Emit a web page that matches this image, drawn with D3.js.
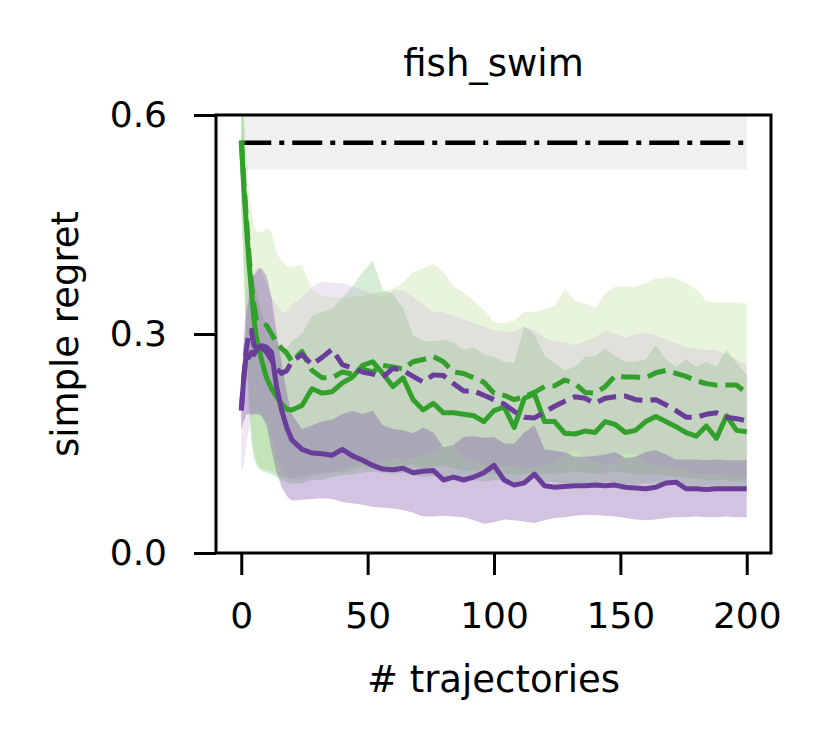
<!DOCTYPE html>
<head>
  <meta charset="utf-8">
  <script src="https://d3js.org/d3.v7.min.js"></script>
  <style>
    body {
      margin: 0;
      background: #fff;
    }

    text {
      font-family: 'DejaVu Sans', sans-serif;
      fill: #000;
    }

    .tick > line {
      stroke: #000;
      stroke-width: 3px;
    }
  </style>
</head>

<body>
  <div id="my_dataviz"></div>

  <script>
    // sample positions (# trajectories)
    var steps = [0, 1, 2, 3, 4, 5, 6, 7, 8, 10, 12, 14, 16, 18,
      20, 24, 28, 32, 36, 40, 44, 48, 52, 56, 60, 64, 68, 72, 76, 80, 84, 88, 92, 96,
      100, 104, 108, 112, 116, 120, 124, 128, 132, 136, 140, 144, 148, 152, 156, 160,
      164, 168, 172, 176, 180, 184, 188, 192, 196, 200];

    var xTicks = [0, 50, 100, 150, 200];
    var yTicks = [0, 0.3, 0.6];

    // reference level (dash-dot) and its band
    var baseMean = 0.562, baseLow = 0.525, baseHigh = 0.6;

    // green dashed
    var greenDashed = [0.565, 0.51, 0.46, 0.41, 0.37, 0.34, 0.32, 0.316, 0.315, 0.312, 0.3, 0.288, 0.28, 0.274,
      0.262, 0.276, 0.25, 0.24, 0.24, 0.248, 0.245, 0.252, 0.248, 0.257, 0.255, 0.252, 0.262, 0.265, 0.269, 0.262,
      0.248, 0.246, 0.24, 0.234, 0.219, 0.216, 0.21, 0.214, 0.22, 0.228, 0.229, 0.237, 0.232, 0.22, 0.219, 0.228,
      0.243, 0.241, 0.241, 0.24, 0.247, 0.25, 0.246, 0.242, 0.236, 0.232, 0.23, 0.23, 0.23, 0.219];
    var greenDashedHi = [0.66, 0.62, 0.55, 0.5, 0.47, 0.45, 0.44, 0.44, 0.44, 0.445, 0.44, 0.41, 0.4, 0.392,
      0.392, 0.395, 0.36, 0.352, 0.35, 0.35, 0.352, 0.352, 0.355, 0.358, 0.362, 0.37, 0.385, 0.39, 0.396, 0.385,
      0.365, 0.357, 0.345, 0.333, 0.316, 0.315, 0.318, 0.33, 0.33, 0.334, 0.338, 0.362, 0.345, 0.342, 0.335, 0.355,
      0.365, 0.365, 0.365, 0.37, 0.376, 0.378, 0.376, 0.37, 0.362, 0.345, 0.343, 0.344, 0.343, 0.342];
    var greenDashedLo = [0.48, 0.4, 0.3, 0.22, 0.17, 0.14, 0.125, 0.118, 0.115, 0.113, 0.112, 0.108, 0.105, 0.103,
      0.102, 0.105, 0.108, 0.11, 0.112, 0.11, 0.114, 0.118, 0.117, 0.12, 0.116, 0.118, 0.12, 0.116, 0.118, 0.12,
      0.116, 0.112, 0.113, 0.11, 0.108, 0.11, 0.106, 0.108, 0.11, 0.108, 0.11, 0.11, 0.112, 0.11, 0.108, 0.11,
      0.112, 0.11, 0.108, 0.106, 0.108, 0.106, 0.104, 0.103, 0.102, 0.1, 0.1, 0.1, 0.098, 0.098];

    // green solid
    var greenSolid = [0.565, 0.5, 0.45, 0.4, 0.36, 0.32, 0.295, 0.28, 0.265, 0.24, 0.225, 0.214, 0.204, 0.197,
      0.196, 0.202, 0.225, 0.219, 0.221, 0.233, 0.241, 0.257, 0.262, 0.246, 0.228, 0.24, 0.21, 0.196, 0.205, 0.192,
      0.192, 0.19, 0.188, 0.18, 0.195, 0.2, 0.172, 0.212, 0.218, 0.18, 0.18, 0.164, 0.163, 0.167, 0.165, 0.18,
      0.176, 0.165, 0.168, 0.18, 0.187, 0.18, 0.173, 0.165, 0.16, 0.174, 0.157, 0.188, 0.168, 0.166];
    var greenSolidHi = [0.66, 0.58, 0.5, 0.44, 0.4, 0.37, 0.36, 0.345, 0.33, 0.31, 0.3, 0.29, 0.28, 0.28,
      0.29, 0.3, 0.325, 0.33, 0.335, 0.35, 0.365, 0.385, 0.4, 0.36, 0.355, 0.335, 0.298, 0.29, 0.29, 0.292,
      0.288, 0.278, 0.282, 0.272, 0.268, 0.262, 0.26, 0.31, 0.3, 0.27, 0.26, 0.25, 0.255, 0.268, 0.27, 0.28,
      0.27, 0.262, 0.262, 0.265, 0.285, 0.265, 0.255, 0.265, 0.255, 0.262, 0.255, 0.278, 0.26, 0.244];
    var greenSolidLo = [0.47, 0.38, 0.28, 0.2, 0.15, 0.13, 0.12, 0.115, 0.113, 0.11, 0.108, 0.104, 0.1, 0.097,
      0.095, 0.096, 0.1, 0.1, 0.104, 0.106, 0.108, 0.11, 0.112, 0.11, 0.108, 0.11, 0.106, 0.104, 0.105, 0.104,
      0.102, 0.1, 0.1, 0.098, 0.1, 0.1, 0.096, 0.1, 0.102, 0.098, 0.097, 0.095, 0.095, 0.096, 0.095, 0.097,
      0.096, 0.094, 0.094, 0.095, 0.096, 0.095, 0.094, 0.092, 0.091, 0.092, 0.09, 0.092, 0.09, 0.088];

    // purple dashed
    var purpleDashed = [0.195, 0.24, 0.28, 0.3, 0.305, 0.285, 0.28, 0.284, 0.282, 0.275, 0.264, 0.252, 0.246, 0.25,
      0.262, 0.272, 0.258, 0.268, 0.279, 0.258, 0.253, 0.248, 0.245, 0.241, 0.253, 0.25, 0.242, 0.234, 0.244, 0.243,
      0.232, 0.222, 0.222, 0.216, 0.21, 0.204, 0.194, 0.186, 0.185, 0.193, 0.201, 0.208, 0.214, 0.212, 0.205, 0.212,
      0.214, 0.215, 0.21, 0.209, 0.21, 0.203, 0.195, 0.186, 0.186, 0.19, 0.192, 0.186, 0.184, 0.181];
    var purpleDashedHi = [0.24, 0.3, 0.35, 0.37, 0.38, 0.385, 0.39, 0.39, 0.385, 0.37, 0.35, 0.34, 0.33, 0.33,
      0.34, 0.35, 0.365, 0.372, 0.37, 0.37, 0.365, 0.36, 0.355, 0.35, 0.36, 0.36, 0.35, 0.34, 0.33, 0.33,
      0.325, 0.32, 0.315, 0.31, 0.305, 0.303, 0.303, 0.31, 0.305, 0.295, 0.29, 0.288, 0.285, 0.29, 0.295, 0.305,
      0.3, 0.295, 0.3, 0.301, 0.298, 0.292, 0.287, 0.282, 0.28, 0.278, 0.278, 0.272, 0.265, 0.258];
    var purpleDashedLo = [0.11, 0.12, 0.15, 0.17, 0.185, 0.19, 0.195, 0.195, 0.19, 0.18, 0.16, 0.13, 0.115, 0.105,
      0.1, 0.1, 0.105, 0.108, 0.11, 0.115, 0.12, 0.125, 0.12, 0.125, 0.13, 0.128, 0.13, 0.135, 0.14, 0.15,
      0.145, 0.13, 0.125, 0.12, 0.118, 0.12, 0.118, 0.115, 0.118, 0.12, 0.125, 0.135, 0.14, 0.13, 0.125, 0.12,
      0.125, 0.138, 0.135, 0.125, 0.12, 0.118, 0.115, 0.112, 0.11, 0.108, 0.108, 0.106, 0.105, 0.104];

    // purple solid
    var purpleSolid = [0.196, 0.24, 0.272, 0.268, 0.275, 0.272, 0.278, 0.282, 0.284, 0.282, 0.275, 0.227, 0.195, 0.172,
      0.155, 0.142, 0.137, 0.136, 0.134, 0.142, 0.133, 0.127, 0.12, 0.115, 0.114, 0.116, 0.11, 0.112, 0.113, 0.1,
      0.104, 0.1, 0.104, 0.11, 0.12, 0.1, 0.093, 0.096, 0.108, 0.092, 0.09, 0.091, 0.092, 0.092, 0.093, 0.092,
      0.093, 0.09, 0.089, 0.088, 0.09, 0.096, 0.097, 0.088, 0.088, 0.087, 0.088, 0.088, 0.088, 0.088];
    var purpleSolidHi = [0.22, 0.29, 0.33, 0.35, 0.37, 0.38, 0.385, 0.39, 0.39, 0.38, 0.35, 0.3, 0.26, 0.22,
      0.19, 0.17, 0.175, 0.18, 0.183, 0.19, 0.195, 0.19, 0.195, 0.175, 0.17, 0.168, 0.164, 0.172, 0.165, 0.145,
      0.148, 0.159, 0.16, 0.158, 0.159, 0.15, 0.15, 0.165, 0.175, 0.142, 0.14, 0.138, 0.132, 0.132, 0.133, 0.135,
      0.138, 0.13, 0.132, 0.138, 0.141, 0.135, 0.128, 0.128, 0.128, 0.127, 0.128, 0.127, 0.127, 0.127];
    var purpleSolidLo = [0.17, 0.18, 0.19, 0.19, 0.19, 0.19, 0.19, 0.19, 0.188, 0.175, 0.14, 0.11, 0.09, 0.078,
      0.072, 0.073, 0.074, 0.075, 0.074, 0.07, 0.068, 0.066, 0.063, 0.062, 0.061, 0.059, 0.055, 0.05, 0.05, 0.051,
      0.05, 0.049, 0.045, 0.04, 0.042, 0.046, 0.045, 0.043, 0.041, 0.045, 0.048, 0.049, 0.051, 0.052, 0.052, 0.051,
      0.05, 0.048, 0.046, 0.045, 0.046, 0.048, 0.049, 0.049, 0.05, 0.049, 0.049, 0.05, 0.049, 0.049];

    var bands = [
      {lo: greenDashedLo, hi: greenDashedHi, fill: "#b2df8a", opacity: 0.3},
      {lo: greenSolidLo, hi: greenSolidHi, fill: "#33a02c", opacity: 0.2},
      {lo: purpleDashedLo, hi: purpleDashedHi, fill: "#cab2d6", opacity: 0.3},
      {lo: purpleSolidLo, hi: purpleSolidHi, fill: "#6a3d9a", opacity: 0.3}
    ];

    var lines = [
      {values: greenSolid, color: "#33a02c", dash: null},
      {values: greenDashed, color: "#33a02c", dash: "19,8"},
      {values: purpleDashed, color: "#6a3d9a", dash: "19,8"},
      {values: purpleSolid, color: "#6a3d9a", dash: null}
    ];

    var W = 830, H = 747;
    var plot = {left: 216, right: 771, top: 115, bottom: 553};

    var svg = d3.select("#my_dataviz")
      .append("svg")
      .attr("width", W)
      .attr("height", H);

    var x = d3.scaleLinear()
      .domain([-10, 209.6])
      .range([plot.left, plot.right]);

    var y = d3.scaleLinear()
      .domain([0, 0.6])
      .range([plot.bottom, plot.top]);

    svg.append("clipPath")
      .attr("id", "clip")
      .append("rect")
      .attr("x", plot.left)
      .attr("y", plot.top)
      .attr("width", plot.right - plot.left)
      .attr("height", plot.bottom - plot.top);

    var body = svg.append("g").attr("clip-path", "url(#clip)");

    // reference band + dash-dot line
    body.append("rect")
      .attr("x", x(0))
      .attr("width", x(200) - x(0))
      .attr("y", y(baseHigh))
      .attr("height", y(baseLow) - y(baseHigh))
      .style("fill", "#f0f0f0");

    body.append("line")
      .attr("x1", x(0))
      .attr("x2", x(200))
      .attr("y1", y(baseMean))
      .attr("y2", y(baseMean))
      .style("stroke", "#000")
      .style("stroke-width", 4.5)
      .style("stroke-dasharray", "30,8,5,8");

    bands.forEach(function (b) {
      var area = d3.area()
        .x((d, i) => x(steps[i]))
        .y0((d, i) => y(b.lo[i]))
        .y1((d, i) => y(b.hi[i]));
      body.append("path")
        .datum(b.lo)
        .attr("d", area)
        .style("fill", b.fill)
        .style("fill-opacity", b.opacity)
        .style("stroke", "none");
    });

    var line = d3.line()
      .x((d, i) => x(steps[i]))
      .y(d => y(d));

    lines.forEach(function (l) {
      body.append("path")
        .datum(l.values)
        .attr("d", line)
        .style("fill", "none")
        .style("stroke", l.color)
        .style("stroke-width", 5)
        .style("stroke-linejoin", "round")
        .style("stroke-dasharray", l.dash);
    });

    // frame
    svg.append("rect")
      .attr("x", plot.left)
      .attr("y", plot.top)
      .attr("width", plot.right - plot.left)
      .attr("height", plot.bottom - plot.top)
      .style("fill", "none")
      .style("stroke", "#000")
      .style("stroke-width", 3);

    var yAxis = svg.append("g")
      .attr("transform", "translate(" + plot.left + ",0)")
      .call(d3.axisLeft(y)
        .tickValues(yTicks)
        .tickFormat(d3.format(".1f"))
        .tickSize(22)
        .tickPadding(27));
    yAxis.select(".domain").remove();
    yAxis.selectAll("text")
      .style("font-size", "36px")
      .style("font-family", "'DejaVu Sans', sans-serif");

    var xAxis = svg.append("g")
      .attr("transform", "translate(0," + plot.bottom + ")")
      .call(d3.axisBottom(x)
        .tickValues(xTicks)
        .tickSize(22)
        .tickPadding(27));
    xAxis.select(".domain").remove();
    xAxis.selectAll("text")
      .style("font-size", "36px")
      .style("font-family", "'DejaVu Sans', sans-serif");

    // titles
    svg.append("text")
      .attr("x", (plot.left + plot.right) / 2)
      .attr("y", 76)
      .attr("text-anchor", "middle")
      .style("font-size", "37px")
      .text("fish_swim");

    svg.append("text")
      .attr("x", (plot.left + plot.right) / 2)
      .attr("y", 692)
      .attr("text-anchor", "middle")
      .style("font-size", "37px")
      .text("# trajectories");

    svg.append("text")
      .attr("transform", "translate(78," + (plot.top + plot.bottom) / 2 + ") rotate(-90)")
      .attr("text-anchor", "middle")
      .style("font-size", "37px")
      .text("simple regret");
  </script>
</body>
